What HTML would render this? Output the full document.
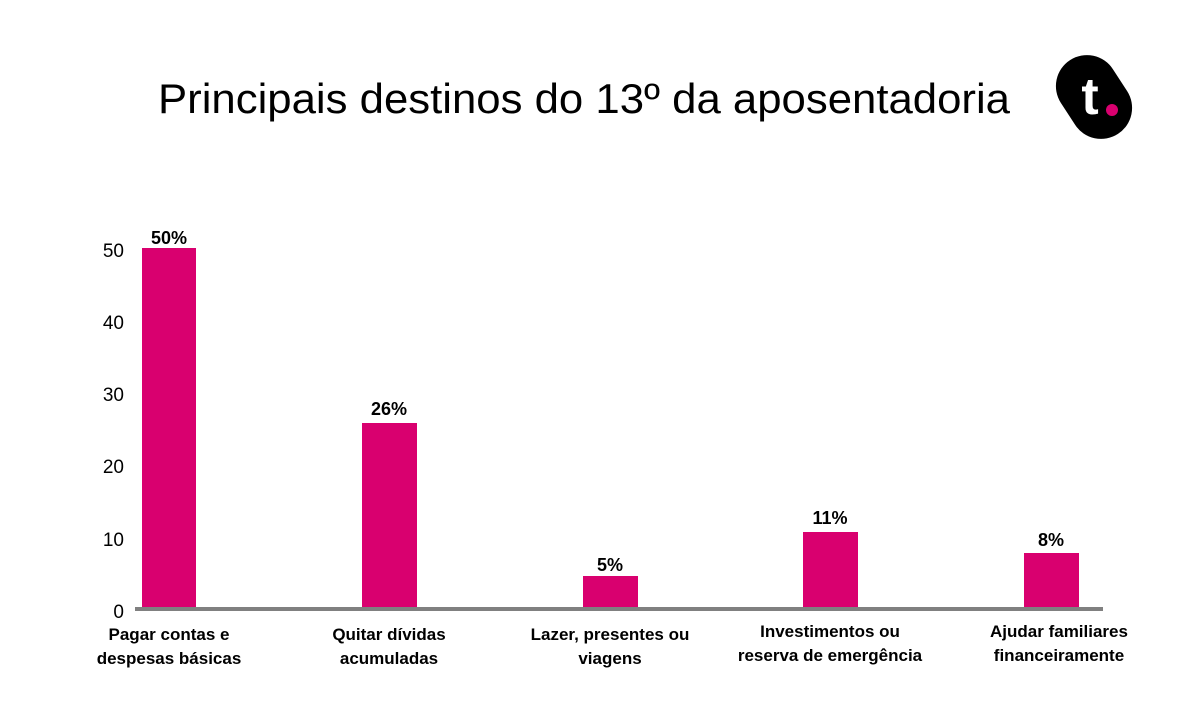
<!DOCTYPE html>
<html><head><meta charset="utf-8"><style>
html,body{margin:0;padding:0;background:#fff}
svg{display:block}
</style></head><body>
<svg width="1200" height="720" viewBox="0 0 1200 720" xmlns="http://www.w3.org/2000/svg" font-family="Liberation Sans, DejaVu Sans, sans-serif">
<rect width="1200" height="720" fill="#fff"/>
<text x="158" y="113" font-size="42" fill="#000" textLength="852" lengthAdjust="spacingAndGlyphs">Principais destinos do 13º da aposentadoria</text>
<g transform="translate(1094,97) rotate(-33)">
<rect x="-31" y="-44" width="62" height="88" rx="31" fill="#000"/>
</g>
<text x="1090" y="114" text-anchor="middle" font-size="52" font-weight="bold" fill="#fff">t</text>
<circle cx="1112" cy="110" r="6" fill="#d9006f"/>
<g font-size="19" fill="#000" text-anchor="end">
<text x="124" y="257">50</text>
<text x="124" y="329">40</text>
<text x="124" y="401">30</text>
<text x="124" y="473">20</text>
<text x="124" y="546">10</text>
<text x="124" y="618">0</text>
</g>
<g fill="#d9006f">
<rect x="142" y="248" width="54" height="361"/>
<rect x="362" y="423" width="55" height="186"/>
<rect x="583" y="576" width="55" height="33"/>
<rect x="803" y="532" width="55" height="77"/>
<rect x="1024" y="553" width="55" height="56"/>
</g>
<rect x="135" y="607" width="968" height="4" fill="#808080"/>
<g font-size="18" font-weight="bold" text-anchor="middle" fill="#000">
<text x="169" y="244">50%</text>
<text x="389" y="415">26%</text>
<text x="610" y="571">5%</text>
<text x="830" y="524">11%</text>
<text x="1051" y="546">8%</text>
</g>
<g font-size="17" font-weight="bold" text-anchor="middle" fill="#000">
<text x="169" y="640">Pagar contas e</text>
<text x="169" y="664">despesas básicas</text>
<text x="389" y="640">Quitar dívidas</text>
<text x="389" y="664">acumuladas</text>
<text x="610" y="640">Lazer, presentes ou</text>
<text x="610" y="664">viagens</text>
<text x="830" y="637">Investimentos ou</text>
<text x="830" y="661">reserva de emergência</text>
<text x="1059" y="637">Ajudar familiares</text>
<text x="1059" y="661">financeiramente</text>
</g>
</svg>
</body></html>
